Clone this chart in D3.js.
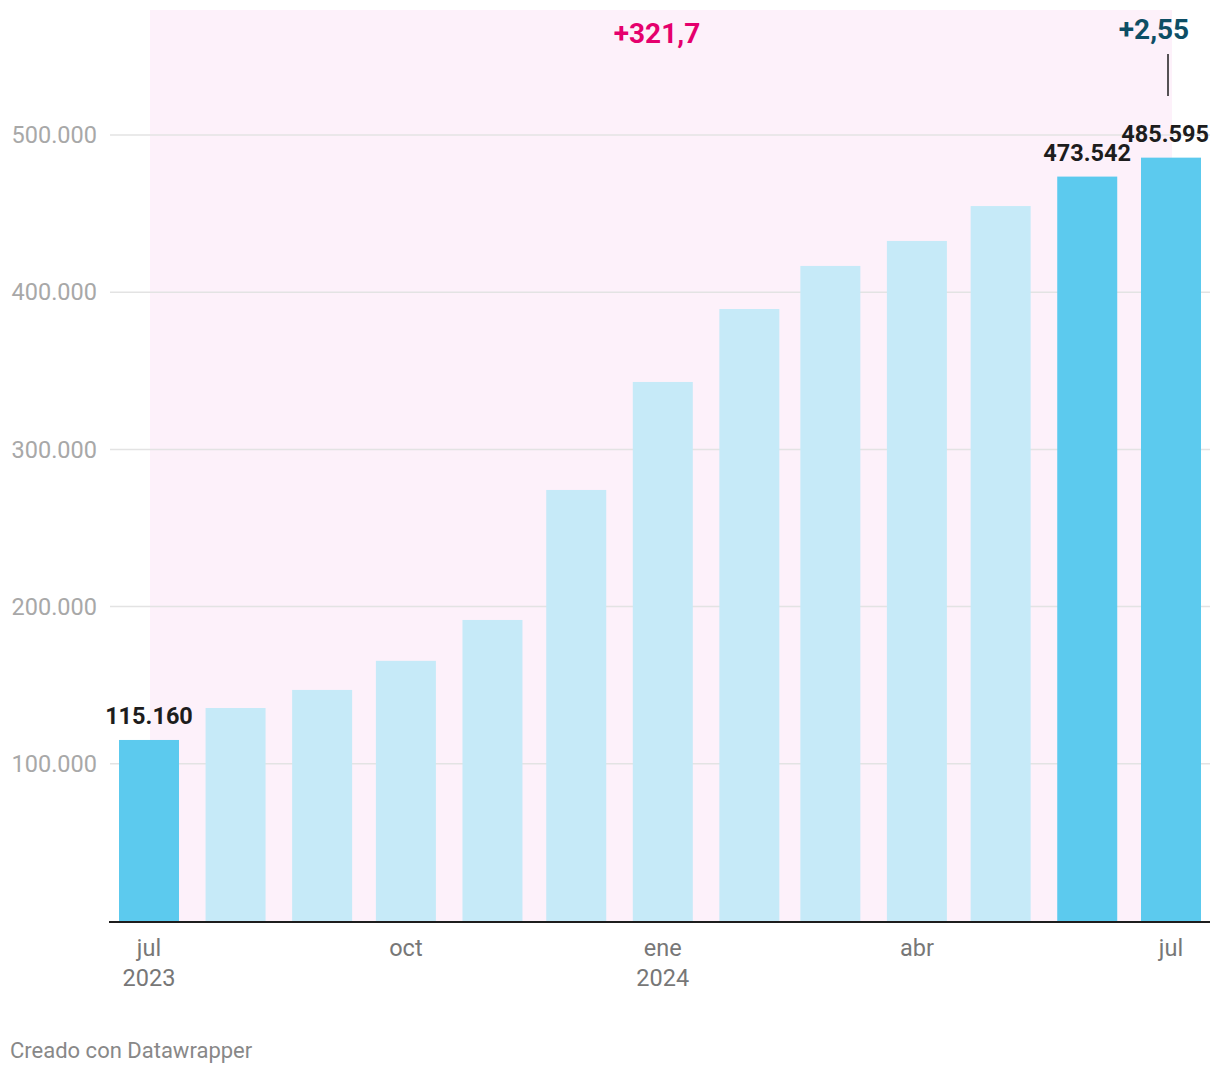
<!DOCTYPE html>
<html><head><meta charset="utf-8">
<script src="https://cdn.jsdelivr.net/npm/d3@7"></script>
<style>body{margin:0;background:#fff;font-family:Roboto,sans-serif;}</style>
</head><body>
<svg id="c" width="1220" height="1074"></svg>
<script>
const months = ["2023-07","2023-08","2023-09","2023-10","2023-11","2023-12","2024-01","2024-02","2024-03","2024-04","2024-05","2024-06","2024-07"];
const values = [115160,135500,147000,165500,191500,274200,342900,389300,416700,432600,454800,473542,485595];
const highlighted = [true,false,false,false,false,false,false,false,false,false,false,true,true];
const labeled = [true,false,false,false,false,false,false,false,false,false,false,true,true];
const yTicks = [100000,200000,300000,400000,500000];
const xTicks = [["2023-07","jul","2023"],["2023-10","oct",""],["2024-01","ene","2024"],["2024-04","abr",""],["2024-07","jul",""]];
const annotations = [{text:"+321,7",color:"#e5006d"},{text:"+2,55",color:"#0d4e65"}];

const parse = d3.timeParse("%Y-%m");
const fmt = d3.formatLocale({decimal:",",thousands:".",grouping:[3],currency:["","€"]}).format(",.0f");
const svg = d3.select("#c");
const x = d3.scaleTime().domain([parse("2023-07"), parse("2024-07")]).range([149,1171]);
const y = d3.scaleLinear().domain([0,500000]).range([921,135]);
const bw = 60;

// highlight range
svg.append("rect").attr("x", x(parse("2023-07"))+1).attr("y",10)
  .attr("width", x(parse("2024-07"))-x(parse("2023-07"))).attr("height", y(0)-10)
  .attr("fill","#fdf1fa");

// grid
const g = svg.append("g");
yTicks.forEach(t=>{
  g.append("line").attr("x1",110).attr("x2",1210).attr("y1",y(t)).attr("y2",y(t))
    .attr("stroke","#e3e3e3").attr("stroke-width",1.5);
  g.append("text").attr("x",97).attr("y",y(t)).attr("dy","0.35em").attr("text-anchor","end")
    .attr("font-size",23.5).attr("fill","#a8a8a8").text(fmt(t));
});

// bars
svg.selectAll("rect.bar").data(values).join("rect").attr("class","bar")
  .attr("x",(d,i)=>x(parse(months[i]))-bw/2).attr("width",bw)
  .attr("y",d=>y(d)).attr("height",d=>y(0)-y(d))
  .attr("fill",(d,i)=>highlighted[i]?"#5ccaee":"#c6eaf8");

// value labels
values.forEach((v,i)=>{
  if(!labeled[i]) return;
  let cx = x(parse(months[i]));
  const t = svg.append("text").attr("x",cx).attr("y",y(v)-16).attr("text-anchor","middle")
    .attr("font-size",23.5).attr("font-weight",700).attr("fill","#1d1d1d").text(fmt(v));
  const bb = t.node().getBBox();
  if(bb.x+bb.width>1209) t.attr("x", cx-(bb.x+bb.width-1209));
});

// axis
svg.append("line").attr("x1",109).attr("x2",1210).attr("y1",y(0)+1).attr("y2",y(0)+1)
  .attr("stroke","#1d1d1d").attr("stroke-width",2);
xTicks.forEach(([m,a,b])=>{
  const cx = x(parse(m));
  svg.append("text").attr("x",cx).attr("y",948).attr("dy","0.35em").attr("text-anchor","middle")
    .attr("font-size",23.5).attr("fill","#777").text(a);
  if(b) svg.append("text").attr("x",cx).attr("y",978).attr("dy","0.35em").attr("text-anchor","middle")
    .attr("font-size",23.5).attr("fill","#777").text(b);
});

// annotations
svg.append("text").attr("x",657).attr("y",33).attr("dy","0.35em").attr("text-anchor","middle")
  .attr("font-size",28).attr("font-weight",700).attr("fill",annotations[0].color).text(annotations[0].text);
svg.append("text").attr("x",1154).attr("y",29).attr("dy","0.35em").attr("text-anchor","middle")
  .attr("font-size",28).attr("font-weight",700).attr("fill",annotations[1].color).text(annotations[1].text);
svg.append("line").attr("x1",1168).attr("x2",1168).attr("y1",54).attr("y2",96)
  .attr("stroke","#1d1d1d").attr("stroke-width",1.5);

// footer
svg.append("text").attr("x",10).attr("y",1050).attr("dy","0.35em").attr("font-size",22)
  .attr("fill","#888").text("Creado con Datawrapper");
</script>
</body></html>
